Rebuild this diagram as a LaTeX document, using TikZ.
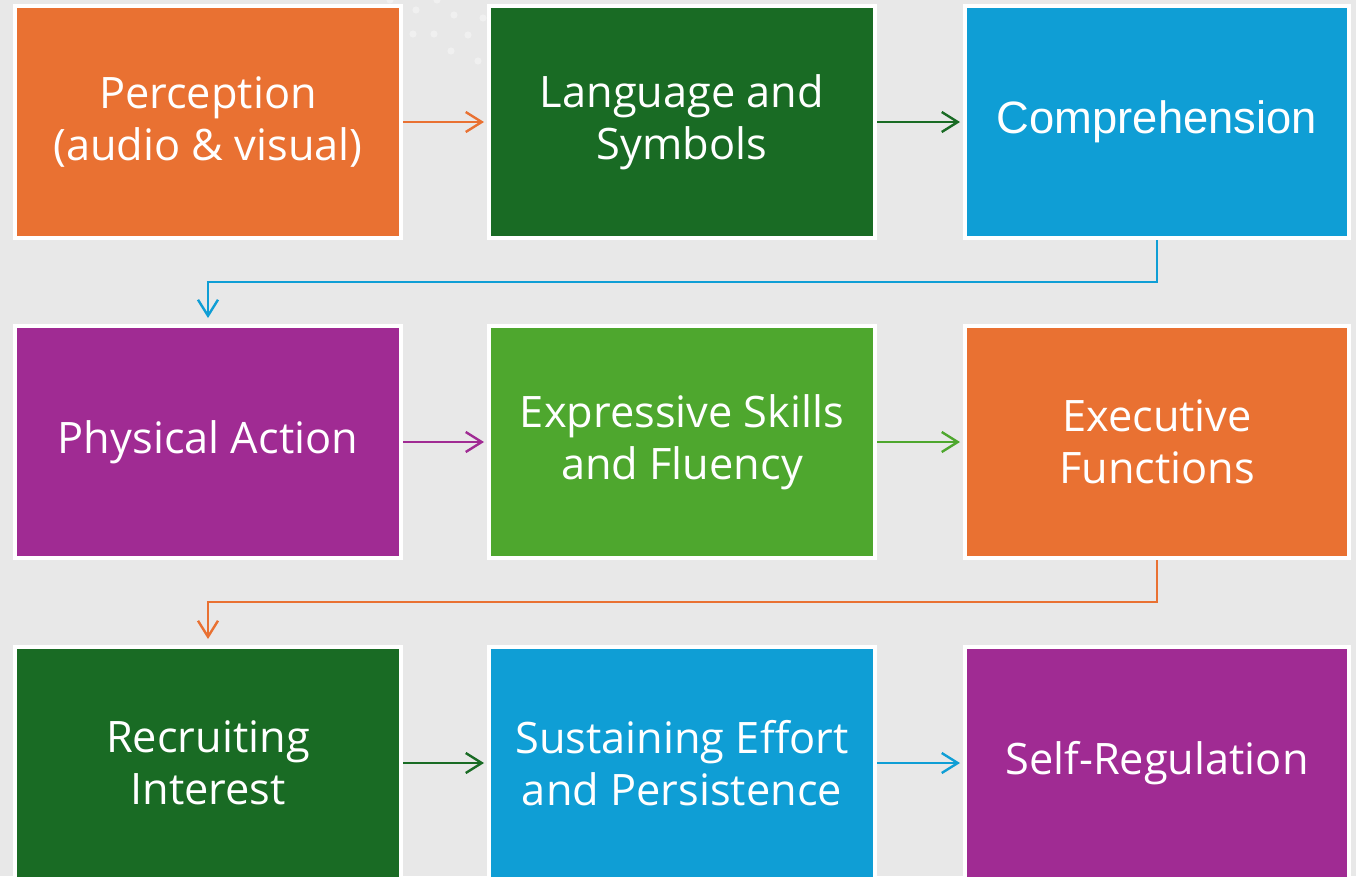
\documentclass[tikz,border=0pt]{standalone}
\usepackage{fontspec}
\setmainfont{Open Sans}
\newfontfamily\arialfont{Liberation Sans}
\usetikzlibrary{arrows.meta}
\definecolor{bgc}{HTML}{E8E8E8}
\definecolor{dotc}{HTML}{F0F0F0}
\definecolor{c-orange}{HTML}{E97132}
\definecolor{c-dkgreen}{HTML}{196B24}
\definecolor{c-blue}{HTML}{0F9ED5}
\definecolor{c-purple}{HTML}{A02B93}
\definecolor{c-ltgreen}{HTML}{4EA72E}
\tikzset{
  box/.style={draw=white, line width=3pt, minimum width=289.5pt, minimum height=174pt,
    inner sep=0pt, text=white, align=center,
    font=\fontsize{32.5pt}{39pt}\selectfont},
  wide3/.style={minimum width=288pt},
  flow/.style={line width=1.8pt, -{Straight Barb[length=12pt,width=15pt]}, shorten >=2.25pt},
  elbow/.style={line width=1.8pt, -{Straight Barb[length=12pt,width=15pt]}, shorten >=4.5pt},
  dot/.style={fill=dotc, draw=none}
}
\begin{document}
\begin{tikzpicture}[x=0.75pt,y=-0.75pt]
\fill[bgc] (0,0) rectangle (1356,876);
\useasboundingbox (0,0) rectangle (1356,876);
\clip (0,0) rectangle (1356,876);
% decorative dots
\foreach \px/\py in {390/0,416/10,437/0,454/15,483/18,413/34,434/34,468/35,451/51,478/61}
  \fill[dot] (\px,\py) circle[radius=3.6];
% row 1
\node[box, fill=c-orange] (perc) at (208,122) {Perception\\(audio \& visual)};
\node[box, fill=c-dkgreen] (lang) at (682,122) {Language and\\Symbols};
\node[box, wide3, fill=c-blue] (comp) at (1157,122) {\arialfont\fontsize{34pt}{40pt}\selectfont Comprehension};
% row 2
\node[box, fill=c-purple] (phys) at (208,442) {Physical Action};
\node[box, fill=c-ltgreen] (expr) at (682,442) {Expressive Skills\\and Fluency};
\node[box, wide3, fill=c-orange] (exec) at (1157,442) {Executive\\Functions};
% row 3
\node[box, fill=c-dkgreen] (recr) at (208,763) {Recruiting\\Interest};
\node[box, fill=c-blue] (sust) at (682,763) {Sustaining Effort\\and Persistence};
\node[box, wide3, fill=c-purple] (self) at (1157,763) {Self-Regulation};
% connectors
\draw[flow, c-orange] (perc) -- (lang);
\draw[flow, c-dkgreen] (lang) -- (comp);
\draw[elbow, c-blue] (comp.south) -- ++(0,42) -| (phys.north);
\draw[flow, c-purple] (phys) -- (expr);
\draw[flow, c-ltgreen] (expr) -- (exec);
\draw[elbow, c-orange] (exec.south) -- ++(0,42) -| (recr.north);
\draw[flow, c-dkgreen] (recr) -- (sust);
\draw[flow, c-blue] (sust) -- (self);
\end{tikzpicture}
\end{document}
